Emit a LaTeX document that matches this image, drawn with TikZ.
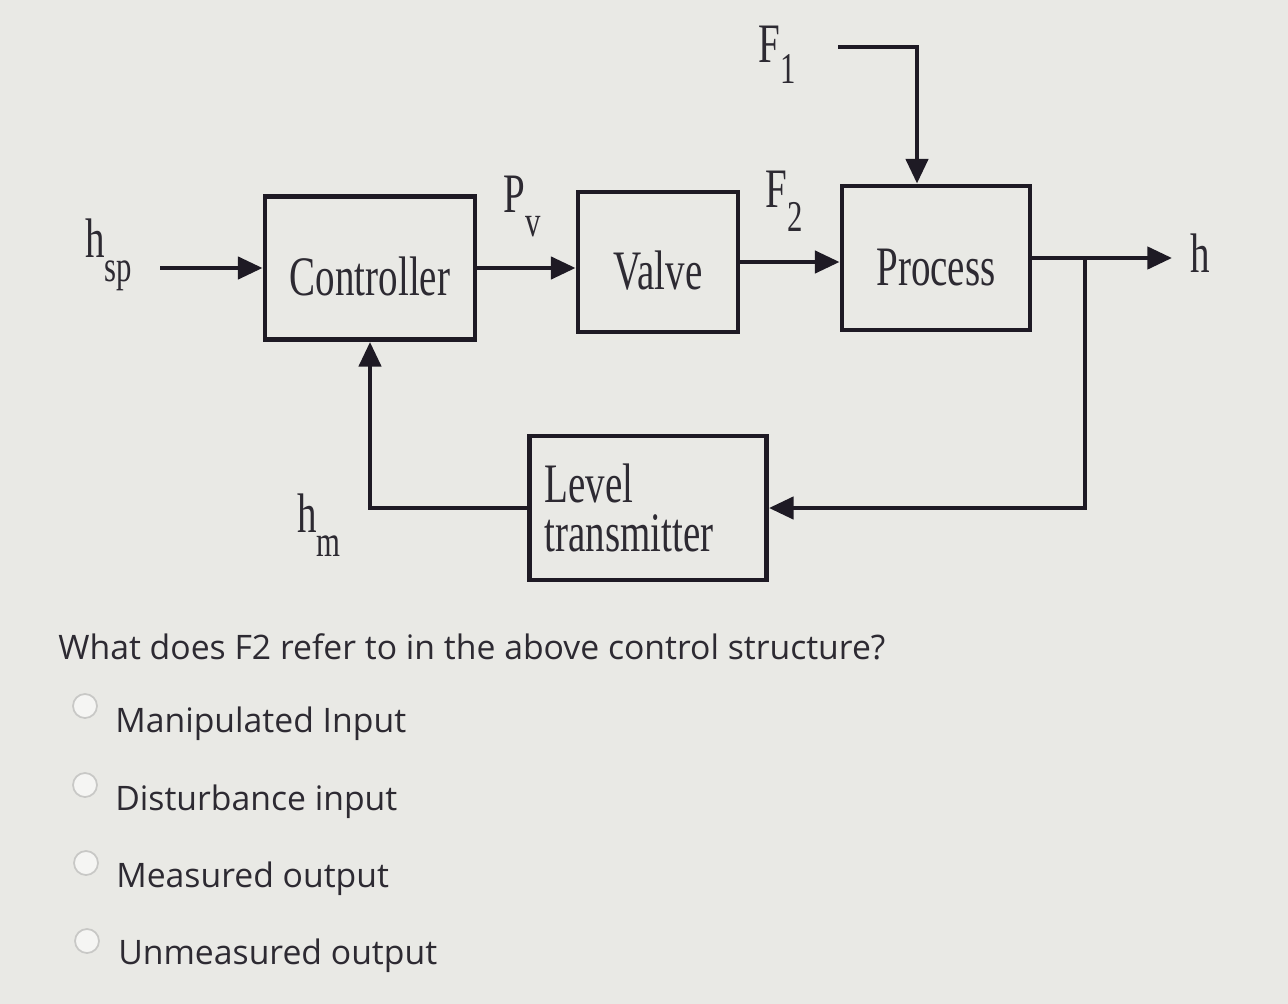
\documentclass[tikz,border=0pt]{standalone}
\usepackage{fontspec}
\setmainfont{Liberation Serif}
\newfontfamily\diag[FakeStretch=0.7]{Liberation Serif}
\newfontfamily\qfont{Open Sans}
\usetikzlibrary{arrows.meta}
\definecolor{bg}{RGB}{233,233,229}
\definecolor{ink}{RGB}{30,26,36}
\definecolor{txt}{RGB}{45,42,50}
\definecolor{radio}{RGB}{200,200,198}
\newcommand\dsub[3][14pt]{#2\raisebox{-#1}{\fontsize{25}{25}\selectfont #3}}
\begin{document}
\begin{tikzpicture}[x=0.02cm,y=-0.02cm,
  blk/.style={draw=ink,line width=2.8pt,fill=bg,text=txt,inner sep=0pt,
    font=\diag\fontsize{31.7}{28}\selectfont},
  lowtext/.style={text height=31pt,text depth=0pt},
  lbl/.style={font=\diag\fontsize{31.7}{31.7}\selectfont,text=txt,inner sep=0pt,anchor=base west},
  flow/.style={draw=ink,line width=2.5pt,-{Triangle[length=14pt,width=12.5pt]}},
  q/.style={font=\qfont\fontsize{19.2}{19.2}\selectfont,text=txt,anchor=base west,inner sep=0pt},
  radiobtn/.style={draw=radio,fill=white!55!bg,line width=1pt,circle,minimum size=0.48cm,inner sep=0pt}]
\fill[bg] (0,0) rectangle (1288,1004);
\useasboundingbox (0,0) rectangle (1288,1004);
% blocks
\node[blk,lowtext,minimum width=4.2cm,minimum height=2.86cm] (ctrl) at (370,268) {Controller};
\node[blk,lowtext,minimum width=3.2cm,minimum height=2.8cm] (valve) at (658,262) {Valve};
\node[blk,lowtext,minimum width=3.76cm,minimum height=2.88cm] (proc) at (936,258) {Process};
\node[blk,minimum width=4.74cm,minimum height=2.88cm,text width=4.14cm,align=left,inner xsep=0.3cm] (lt) at (648,508) {Level\\transmitter};
% labels
\node[lbl] (hsp) at (85,257) {\dsub{h}{sp}};
\node[lbl] (pv) at (503,212) {\dsub{P}{v}};
\node[lbl] (f1) at (758,62) {\dsub[12pt]{F}{1}};
\node[lbl] (f2) at (765,207) {\dsub{F}{2}};
\node[lbl] (hm) at (297,532) {\dsub{h}{m}};
\node[lbl] (hout) at (1190,272) {h};
% connectors
\coordinate (hs) at (160,268);
\coordinate (out) at (1172,258);
\coordinate (br) at (1085,258);
\coordinate (f1s) at (838,47);
\coordinate (f1c) at (917,47);
\draw[flow] (hs) -- (ctrl.west);
\draw[flow] (ctrl.east) -- (ctrl.east -| valve.west);
\draw[flow] (valve.east) -- (valve.east -| proc.west);
\draw[flow] (proc.east) -- (out);
\draw[flow] (br) |- (lt.east);
\draw[flow] (lt.west) -| (ctrl.south);
\draw[flow] (f1s) -- (f1c) -- (f1c |- proc.north);
% question
\node[q] (qst) at (58,659) {What does F2 refer to in the above control structure?};
\node[radiobtn] (r1) at (85,706) {};
\node[radiobtn] (r2) at (85,785) {};
\node[radiobtn] (r3) at (86,863) {};
\node[radiobtn] (r4) at (87,941) {};
\node[q] (o1) at (115,732) {Manipulated Input};
\node[q] (o2) at (115,810) {Disturbance input};
\node[q] (o3) at (116,887) {Measured output};
\node[q] (o4) at (118,964) {Unmeasured output};
\end{tikzpicture}
\end{document}
